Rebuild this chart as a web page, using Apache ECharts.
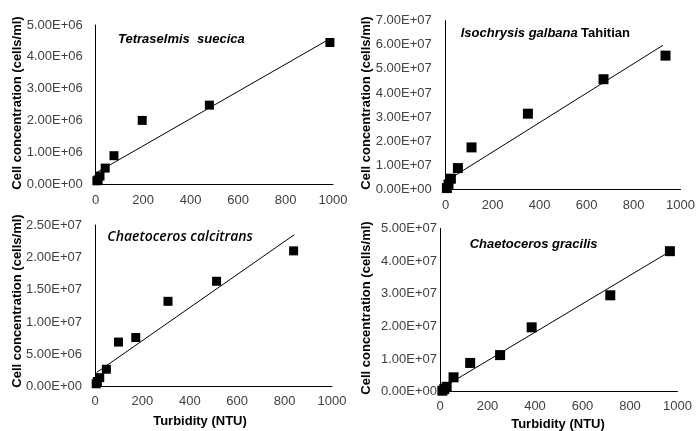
<!DOCTYPE html>
<html><head><meta charset="utf-8">
<script src="https://cdn.jsdelivr.net/npm/echarts@6/dist/echarts.min.js"></script>
<style>html,body{margin:0;padding:0;background:#fff}#c{width:698px;height:431px}</style>
</head><body><div id="c"></div>
<script>
// Data
const xTickMax = 1000, xTickStep = 200;
const species = ['Tetraselmis  suecica', 'Isochrysis galbana', 'Chaetoceros calcitrans', 'Chaetoceros gracilis'];
const yMaxes = [5e6, 7e7, 2.5e7, 5e7];
const yStepps = [1e6, 1e7, 5e6, 1e7];

const tsX = [5, 10, 18, 40, 77, 196, 479, 987];
const tsY = [1.0e5, 1.3e5, 2.5e5, 5.0e5, 8.9e5, 2.0e6, 2.48e6, 4.45e6];
const tsTrend = [[10, 3.87e5], [990, 4.58e6]];

const igX = [5, 12, 22, 52, 110, 350, 672, 936];
const igY = [5e5, 2e6, 4.4e6, 8.8e6, 1.74e7, 3.14e7, 4.57e7, 5.55e7];
const igTrend = [[5, 3.6e6], [925, 5.98e7]];

const ccX = [5, 10, 20, 48, 99, 172, 308, 513, 838];
const ccY = [4.5e5, 8e5, 1.4e6, 2.7e6, 6.9e6, 7.6e6, 1.32e7, 1.63e7, 2.1e7];
const ccTrend = [[7, 2.2e6], [841, 2.35e7]];

const cgX = [10, 18, 28, 57, 127, 253, 386, 717, 968];
const cgY = [3e5, 8e5, 1.5e6, 4.4e6, 8.8e6, 1.12e7, 1.97e7, 2.95e7, 4.3e7];
const cgTrend = [[12, 1.3e6], [970, 4.3e7]];

function sci(v) {
  if (v === 0) return '0.00E+00';
  const e = Math.floor(Math.log10(Math.abs(v)) + 1e-9);
  const m = v / Math.pow(10, e);
  return m.toFixed(2) + 'E' + (e < 0 ? '-' : '+') + String(Math.abs(e)).padStart(2, '0');
}
const zip = (a, b) => a.map((x, i) => [x, b[i]]);

const grids = [
  {left: 95.7, top: 25, width: 237.3, height: 159},
  {left: 445.7, top: 20.7, width: 236, height: 168.6},
  {left: 95, top: 225, width: 237, height: 161.7},
  {left: 440, top: 228.3, width: 237.5, height: 163.4}
];
const yLabelMargin = [13, 14, 13, 3];
const xLabelMargin = [9.5, 10, 8.5, 8.5];
const markerSizes = [9, 10, 9, 10];
const scatters = [zip(tsX, tsY), zip(igX, igY), zip(ccX, ccY), zip(cgX, cgY)];
const trends = [tsTrend, igTrend, ccTrend, cgTrend];

const font = 'Liberation Sans, Arial, sans-serif';
const xAxes = [], yAxes = [], series = [];
for (let i = 0; i < 4; i++) {
  xAxes.push({
    gridIndex: i, type: 'value', min: 0, max: xTickMax, interval: xTickStep,
    axisLine: {show: true, onZero: false, lineStyle: {color: '#000', width: 1}},
    axisTick: {show: false}, splitLine: {show: false},
    axisLabel: {color: '#404040', fontSize: 13, fontFamily: font, margin: xLabelMargin[i], formatter: v => String(v)}
  });
  yAxes.push({
    gridIndex: i, type: 'value', min: 0, max: yMaxes[i], interval: yStepps[i],
    axisLine: {show: true, onZero: false, lineStyle: {color: '#000', width: 1}},
    axisTick: {show: false}, splitLine: {show: false},
    axisLabel: {color: '#404040', fontSize: 13, fontFamily: font, margin: yLabelMargin[i], formatter: sci}
  });
  series.push({
    type: 'line', xAxisIndex: i, yAxisIndex: i, data: trends[i], symbol: 'none',
    lineStyle: {color: '#000', width: 1}, silent: true, z: 2
  });
  series.push({
    type: 'scatter', xAxisIndex: i, yAxisIndex: i, data: scatters[i], symbol: 'rect',
    symbolSize: markerSizes[i], itemStyle: {color: '#000', opacity: 1}, z: 3
  });
}

const yTitle = (x, y) => ({
  type: 'text', x: x, y: y, rotation: Math.PI / 2,
  style: {text: 'Cell concentration (cells/ml)', font: 'bold 13px ' + font, fill: '#000',
    textAlign: 'center', textVerticalAlign: 'middle'}
});
const xTitle = (x, y) => ({
  type: 'text', x: x, y: y,
  style: {text: 'Turbidity (NTU)', font: 'bold 13px ' + font, fill: '#000',
    textAlign: 'center', textVerticalAlign: 'middle'}
});

const graphic = [
  yTitle(17, 103), yTitle(366, 103), yTitle(17, 301), yTitle(366, 308),
  xTitle(200, 421.7), xTitle(558, 424.3),
  {type: 'text', x: 118, y: 39.3, style: {text: species[0], font: 'italic bold 13px ' + font, fill: '#000', textVerticalAlign: 'middle'}},
  {type: 'text', x: 460.7, y: 33.3, style: {
    text: '{i|' + species[1] + '} {b|Tahitian}', textVerticalAlign: 'middle',
    rich: {i: {font: 'italic bold 13px ' + font, fill: '#000'}, b: {font: 'bold 13px ' + font, fill: '#000'}}
  }},
  {type: 'text', x: 107.3, y: 236.7, style: {text: species[2], font: 'italic 600 14px Open Sans, sans-serif', fill: '#000', textVerticalAlign: 'middle'}},
  {type: 'text', x: 469.7, y: 244.3, style: {text: species[3], font: 'italic bold 13px ' + font, fill: '#000', textVerticalAlign: 'middle'}}
];

const chart = echarts.init(document.getElementById('c'), null, {renderer: 'canvas'});
chart.setOption({
  animation: false, backgroundColor: '#fff',
  grid: grids, xAxis: xAxes, yAxis: yAxes, series: series, graphic: graphic
});
</script></body></html>
